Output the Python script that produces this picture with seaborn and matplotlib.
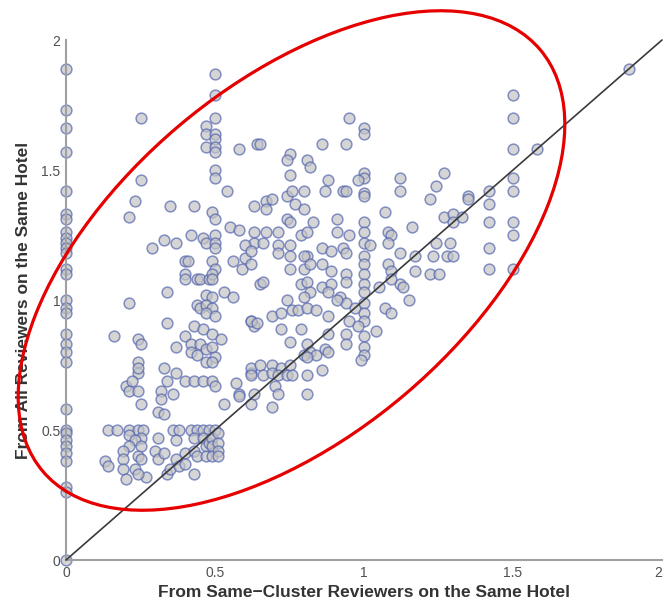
import numpy as np
import pandas as pd
import seaborn as sns
import matplotlib
matplotlib.use('Agg')
import matplotlib.pyplot as plt
from matplotlib.patches import Ellipse

# points sitting on the x = 0 column
zero_col_y = [1.89, 1.73, 1.66, 1.57, 1.42, 1.33, 1.31, 1.26, 1.24, 1.22, 1.20, 1.18,
              1.12, 1.10, 1.00, 0.97, 0.95, 0.87, 0.83, 0.80, 0.76, 0.58, 0.50, 0.49,
              0.46, 0.44, 0.41, 0.38, 0.28, 0.26, 0.00]

# same-cluster (x) / all reviewers (y) for the rest of the hotels
same_cluster = [
    0.25, 0.50, 0.50, 0.50, 0.47, 0.47, 0.50, 0.50, 0.47, 0.50, 0.50, 0.58, 0.64, 0.50, 0.50,
    0.25, 0.54, 0.23, 0.21, 0.35, 0.43, 0.49, 0.63,
    0.50, 0.29, 0.33, 0.37, 0.42, 0.46, 0.47, 0.50, 0.50, 0.50, 0.55, 0.58, 0.63, 0.63, 0.56,
    0.60, 0.59, 0.62, 0.40, 0.41, 0.49, 0.50, 0.40, 0.40, 0.44, 0.45, 0.48, 0.49, 0.49, 0.34,
    0.21, 0.47, 0.49, 0.53, 0.56, 0.44, 0.45, 0.47, 0.49, 0.47, 0.50, 0.34, 0.43, 0.46, 0.49,
    0.52, 0.62, 0.63, 0.16, 0.24, 0.25, 0.37, 0.40, 0.42, 0.45, 0.47, 0.49, 0.50, 0.42, 0.44,
    0.47, 0.49, 0.24, 0.24, 0.24, 0.33, 0.34, 0.37, 0.40, 0.43, 0.46, 0.49, 0.50, 0.20, 0.22,
    0.21, 0.24, 0.32, 0.36, 0.57, 0.58, 0.62,
    0.25, 0.31, 0.33, 0.32, 0.53, 0.58, 0.62,
    0.14, 0.17, 0.21, 0.24, 0.26, 0.36, 0.38, 0.42, 0.44, 0.46, 0.48, 0.50,
    0.21, 0.25, 0.23, 0.25, 0.21, 0.19, 0.24, 0.25, 0.19, 0.13, 0.14, 0.19, 0.23, 0.27, 0.20,
    0.24, 0.31, 0.30, 0.31, 0.33, 0.34, 0.35, 0.37, 0.37, 0.38, 0.40, 0.40, 0.43, 0.43, 0.43,
    0.44, 0.46, 0.47, 0.47, 0.48, 0.49, 0.49, 0.49, 0.51, 0.51, 0.51, 0.51,
    0.95, 1.00, 1.00, 0.65, 0.86, 0.94, 0.75, 0.74, 0.81, 0.82, 0.75, 1.00, 1.00, 0.98, 1.00,
    1.00, 0.88, 0.87, 0.93, 0.94, 1.12, 1.12, 1.27, 1.24, 1.22, 0.74, 0.76, 0.80, 0.67, 0.69,
    0.67, 0.77, 0.80, 1.07, 1.16, 1.27, 1.30, 0.74, 0.75, 0.83, 0.91, 0.91, 1.00, 1.00, 1.00,
    0.95, 1.08, 1.09, 1.08, 1.24, 1.29, 0.67, 0.71, 0.66, 0.79, 0.81, 0.71, 0.75, 0.81, 0.86,
    0.89, 0.93, 0.94, 1.00, 1.02, 1.12,
    0.60, 0.62, 0.71, 0.75, 0.80, 1.17, 1.23, 1.28, 1.30,
    0.75, 0.80, 0.82, 0.86, 0.89, 0.94, 0.94, 1.00, 1.00, 1.00, 1.08, 1.09, 1.12, 1.17, 1.22,
    1.25, 0.65, 0.66, 0.79, 0.81, 0.82, 0.86, 0.89, 0.88, 0.80, 0.92, 0.94, 0.97, 1.00, 1.00,
    1.05, 1.09, 1.13, 1.15, 0.74, 0.69, 0.72, 0.76, 0.78, 0.81, 0.84, 0.88, 0.91, 0.62, 0.64,
    1.07, 1.09, 1.00, 1.00, 0.95, 0.98, 1.04, 0.94, 1.00, 0.88, 0.79, 0.72, 0.75,
    0.81, 0.82, 0.84, 0.87, 0.94, 1.00, 1.00, 0.99, 0.88, 0.80, 0.81,
    0.62, 0.65, 0.69, 0.72, 0.75, 0.62, 0.66, 0.69, 0.71, 0.74, 0.76, 0.81, 0.86, 0.70, 0.71,
    0.63, 0.69, 0.81,
    1.89, 1.50, 1.50, 1.50, 1.58, 1.50, 1.50, 1.35, 1.35, 1.42, 1.42, 1.30, 1.33, 1.42, 1.50,
    1.50, 1.42, 1.42, 1.50,
]
all_reviewers = [
    1.70, 1.87, 1.79, 1.70, 1.67, 1.64, 1.64, 1.62, 1.59, 1.59, 1.57, 1.58, 1.60, 1.50, 1.47,
    1.46, 1.42, 1.38, 1.32, 1.36, 1.36, 1.34, 1.36,
    1.31, 1.20, 1.23, 1.22, 1.25, 1.24, 1.22, 1.25, 1.22, 1.20, 1.28, 1.27, 1.26, 1.22, 1.15,
    1.16, 1.12, 1.14, 1.15, 1.15, 1.15, 1.12, 1.10, 1.08, 1.08, 1.08, 1.08, 1.10, 1.08, 1.03,
    0.99, 1.02, 1.01, 1.03, 1.01, 0.98, 0.97, 0.98, 0.97, 0.95, 0.94, 0.91, 0.90, 0.89, 0.87,
    0.85, 0.92, 0.90, 0.86, 0.85, 0.83, 0.82, 0.86, 0.83, 0.83, 0.81, 0.82, 0.78, 0.80, 0.79,
    0.76, 0.76, 0.76, 0.72, 0.74, 0.74, 0.69, 0.72, 0.69, 0.69, 0.69, 0.69, 0.67, 0.67, 0.69,
    0.65, 0.65, 0.65, 0.64, 0.68, 0.64, 0.72,
    0.60, 0.57, 0.56, 0.62, 0.60, 0.63, 0.60,
    0.50, 0.50, 0.50, 0.50, 0.50, 0.50, 0.50, 0.50, 0.50, 0.50, 0.50, 0.50,
    0.48, 0.47, 0.46, 0.44, 0.44, 0.42, 0.40, 0.39, 0.39, 0.38, 0.36, 0.35, 0.35, 0.32, 0.31,
    0.33, 0.47, 0.42, 0.39, 0.41, 0.33, 0.35, 0.46, 0.39, 0.36, 0.41, 0.37, 0.47, 0.42, 0.33,
    0.40, 0.47, 0.44, 0.40, 0.45, 0.47, 0.44, 0.40, 0.49, 0.45, 0.42, 0.40,
    1.70, 1.66, 1.64, 1.60, 1.60, 1.60, 1.56, 1.54, 1.54, 1.51, 1.48, 1.49, 1.47, 1.46, 1.41,
    1.40, 1.46, 1.42, 1.42, 1.42, 1.47, 1.42, 1.49, 1.44, 1.39, 1.40, 1.42, 1.42, 1.38, 1.39,
    1.35, 1.37, 1.35, 1.34, 1.28, 1.32, 1.33, 1.31, 1.30, 1.30, 1.31, 1.26, 1.30, 1.26, 1.22,
    1.25, 1.26, 1.25, 1.22, 1.22, 1.22, 1.26, 1.26, 1.22, 1.25, 1.26, 1.21, 1.21, 1.17, 1.20,
    1.19, 1.20, 1.18, 1.17, 1.21, 1.18,
    1.21, 1.19, 1.18, 1.17, 1.17, 1.17, 1.17, 1.17, 1.17,
    1.12, 1.12, 1.14, 1.14, 1.11, 1.10, 1.07, 1.14, 1.10, 1.06, 1.14, 1.11, 1.06, 1.11, 1.10,
    1.10, 1.06, 1.07, 1.06, 1.07, 1.03, 1.05, 1.06, 1.03, 1.01, 1.01, 0.99, 0.97, 1.03, 0.99,
    1.05, 1.08, 1.05, 1.00, 1.00, 0.94, 0.95, 0.96, 0.96, 0.97, 0.96, 0.94, 1.00, 0.92, 0.91,
    0.97, 0.95, 0.95, 0.92, 0.92, 0.90, 0.88, 0.87, 0.86, 0.87, 0.89, 0.89, 0.84,
    0.83, 0.80, 0.79, 0.81, 0.83, 0.82, 0.79, 0.77, 0.80, 0.79, 0.78,
    0.74, 0.75, 0.75, 0.74, 0.75, 0.71, 0.71, 0.72, 0.71, 0.71, 0.71, 0.71, 0.73, 0.67, 0.64,
    0.64, 0.59, 0.64,
    1.89, 1.79, 1.70, 1.58, 1.58, 1.47, 1.42, 1.40, 1.39, 1.42, 1.37, 1.30, 1.32, 1.30, 1.30,
    1.25, 1.20, 1.12, 1.12,
]

x_vals = [0.0] * len(zero_col_y) + same_cluster
y_vals = zero_col_y + all_reviewers
df = pd.DataFrame({'same_cluster': x_vals, 'all_reviewers': y_vals})

diag = [0, 2]
tick_vals = [0, 0.5, 1, 1.5, 2]
tick_labels = ['0', '0.5', '1', '1.5', '2']

sns.set_style('white')
plt.rcParams['font.family'] = ['Liberation Sans', 'DejaVu Sans']

fig = plt.figure(figsize=(6.64, 6.03), dpi=100)
ax = fig.add_axes([66 / 664, 43 / 603, 596 / 664, 520 / 603])

sns.scatterplot(data=df, x='same_cluster', y='all_reviewers', ax=ax,
                s=60, color='#c4c4c4', edgecolor='#5566b0', linewidth=1.1,
                alpha=0.7, clip_on=False, zorder=2)
ax.plot(diag, diag, color='#3a3a3a', linewidth=1.2, zorder=3, clip_on=False)

ax.set_xlim(0, 2)
ax.set_ylim(0, 2)
ax.set_xticks(tick_vals)
ax.set_yticks(tick_vals)
ax.set_xticklabels(tick_labels)
ax.set_yticklabels(tick_labels)
# keep the last x label inside the figure
ax.get_xticklabels()[-1].set_horizontalalignment('right')
sns.despine(ax=ax)
for side in ['left', 'bottom']:
    ax.spines[side].set_color('#a0a0a0')
    ax.spines[side].set_linewidth(1.5)
ax.tick_params(direction='in', length=4, width=1, color='#909090',
               labelcolor='#505050', labelsize=10, pad=4)

ax.set_xlabel('From Same\u2212Cluster Reviewers on the Same Hotel',
              fontsize=12.5, fontweight='bold', color='#333333', labelpad=4)
ax.set_ylabel('From All Reviewers on the Same Hotel',
              fontsize=12.5, fontweight='bold', color='#333333', labelpad=7)

# red highlight ellipse, placed in figure inches
ell = Ellipse((2.915, 3.425), 6.52, 3.51, angle=40.3, transform=fig.dpi_scale_trans,
              fill=False, edgecolor='#e60000', linewidth=2.3, clip_on=False, zorder=10)
ax.add_patch(ell)

fig.savefig('out.png', dpi=100)
